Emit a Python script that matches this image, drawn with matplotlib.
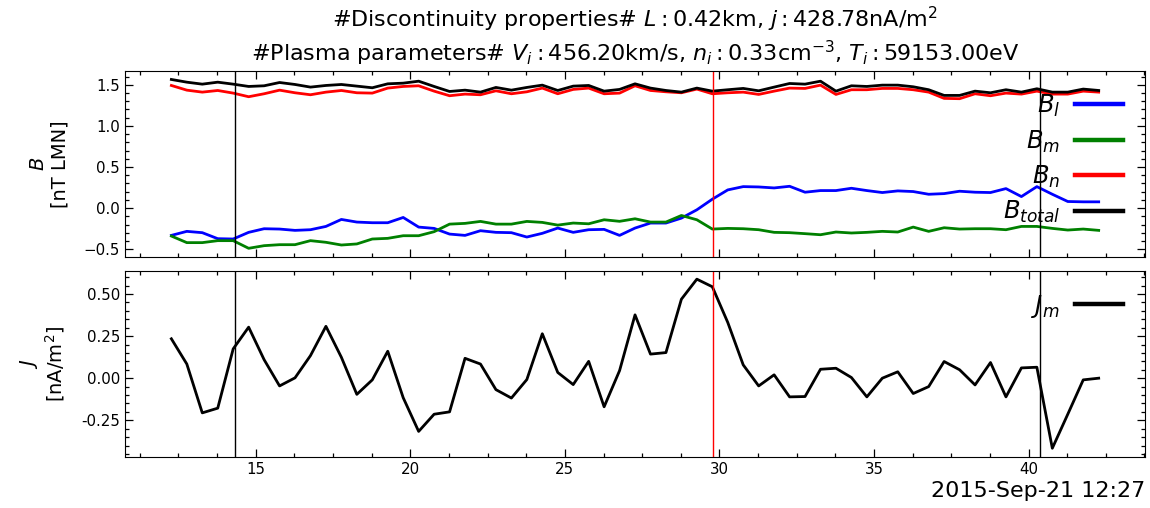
import numpy as np
import matplotlib
matplotlib.use("Agg")
import matplotlib.pyplot as plt
from matplotlib.ticker import AutoMinorLocator, MultipleLocator, FormatStrFormatter

# ── Data (seconds after 2015-09-21 12:27) ─────────────────────────────────────
t = np.linspace(12.27, 42.27, 61)

b_l = [-0.331, -0.282, -0.298, -0.371, -0.375, -0.294, -0.250, -0.254, -0.270, -0.262,
       -0.222, -0.137, -0.169, -0.177, -0.177, -0.113, -0.230, -0.246, -0.315, -0.331,
       -0.274, -0.294, -0.298, -0.351, -0.306, -0.242, -0.294, -0.262, -0.258, -0.331,
       -0.242, -0.181, -0.181, -0.121, -0.020, 0.109, 0.222, 0.262, 0.258, 0.246,
       0.266, 0.194, 0.214, 0.214, 0.242, 0.214, 0.190, 0.210, 0.202, 0.169,
       0.177, 0.206, 0.194, 0.190, 0.238, 0.141, 0.262, 0.169, 0.081, 0.077,
       0.077]
b_m = [-0.339, -0.419, -0.419, -0.395, -0.395, -0.488, -0.456, -0.444, -0.444, -0.395,
       -0.415, -0.448, -0.435, -0.375, -0.367, -0.335, -0.335, -0.286, -0.194, -0.185,
       -0.161, -0.194, -0.194, -0.161, -0.173, -0.206, -0.181, -0.190, -0.141, -0.160,
       -0.129, -0.169, -0.169, -0.089, -0.141, -0.254, -0.246, -0.250, -0.262, -0.294,
       -0.298, -0.310, -0.323, -0.290, -0.302, -0.294, -0.282, -0.290, -0.230, -0.282,
       -0.238, -0.254, -0.250, -0.250, -0.262, -0.222, -0.222, -0.246, -0.266, -0.254,
       -0.270]
b_n = [1.492, 1.435, 1.411, 1.431, 1.399, 1.355, 1.391, 1.435, 1.403, 1.379,
       1.411, 1.431, 1.403, 1.399, 1.460, 1.480, 1.488, 1.423, 1.367, 1.387,
       1.379, 1.427, 1.391, 1.415, 1.460, 1.391, 1.444, 1.460, 1.391, 1.399,
       1.488, 1.431, 1.415, 1.403, 1.448, 1.391, 1.403, 1.411, 1.383, 1.423,
       1.460, 1.456, 1.496, 1.383, 1.440, 1.440, 1.456, 1.456, 1.440, 1.411,
       1.335, 1.331, 1.391, 1.367, 1.399, 1.387, 1.423, 1.387, 1.387, 1.423,
       1.411]
b_total = [1.565, 1.532, 1.508, 1.532, 1.508, 1.480, 1.488, 1.528, 1.504, 1.472,
           1.492, 1.504, 1.484, 1.464, 1.512, 1.520, 1.544, 1.480, 1.419, 1.435,
           1.411, 1.468, 1.435, 1.468, 1.496, 1.431, 1.484, 1.492, 1.423, 1.444,
           1.512, 1.460, 1.431, 1.411, 1.460, 1.423, 1.440, 1.456, 1.427, 1.472,
           1.516, 1.508, 1.544, 1.423, 1.488, 1.480, 1.496, 1.496, 1.476, 1.440,
           1.371, 1.371, 1.423, 1.403, 1.440, 1.411, 1.452, 1.411, 1.411, 1.448,
           1.431]
j_m = [0.234, 0.084, -0.206, -0.178, 0.174, 0.303, 0.110, -0.046, 0.002, 0.134,
       0.308, 0.124, -0.096, -0.010, 0.160, -0.116, -0.316, -0.214, -0.200, 0.118,
       0.084, -0.068, -0.118, -0.008, 0.264, 0.034, -0.038, 0.100, -0.170, 0.045,
       0.376, 0.143, 0.152, 0.469, 0.588, 0.543, 0.331, 0.079, -0.046, 0.020,
       -0.111, -0.109, 0.053, 0.059, 0.004, -0.111, 0.000, 0.038, -0.091, -0.050,
       0.099, 0.050, -0.040, 0.093, -0.111, 0.061, 0.065, -0.416, -0.214, -0.010,
       0.000]

t_edges = [14.33, 40.37]   # black markers
t_center = 29.78           # red marker

title = ("#Discontinuity properties# $L: 0.42$km, $j: 428.78$nA/m$^2$\n"
         "#Plasma parameters# $V_i: 456.20$km/s, $n_i: 0.33$cm$^{-3}$, $T_i: 59153.00$eV")

# ── Figure ────────────────────────────────────────────────────────────────────
fig = plt.figure(figsize=(11.5, 5.08), dpi=100)
ax1 = fig.add_axes([0.1087, 0.4946, 0.8870, 0.3656])
ax2 = fig.add_axes([0.1087, 0.1010, 0.8870, 0.3661], sharex=ax1)

LW = 2.0
ax1.plot(t, b_l, color="blue", lw=LW, label="$B_l$")
ax1.plot(t, b_m, color="green", lw=LW, label="$B_m$")
ax1.plot(t, b_n, color="red", lw=LW, label="$B_n$")
ax1.plot(t, b_total, color="black", lw=LW, label="$B_{total}$")
ax2.plot(t, j_m, color="black", lw=LW, label="$J_m$")

ax2.yaxis.set_major_locator(MultipleLocator(0.25))
ax2.yaxis.set_major_formatter(FormatStrFormatter("%.2f"))

for ax in (ax1, ax2):
    for x in t_edges:
        ax.axvline(x, color="black", lw=1)
    ax.axvline(t_center, color="red", lw=1)
    ax.xaxis.set_minor_locator(AutoMinorLocator(4))
    ax.yaxis.set_minor_locator(AutoMinorLocator(5))
    ax.tick_params(which="both", direction="in", top=True, right=True,
                   labelsize=10.8)
    ax.tick_params(which="major", length=5.5, width=0.9)
    ax.tick_params(which="minor", length=3, width=0.9)
    leg = ax.legend(loc="upper right", frameon=False, markerfirst=False,
                    fontsize=17.5, labelspacing=0.38, handletextpad=0.6)
    for ln in leg.get_lines():
        ln.set_linewidth(3.2)

ax1.tick_params(labelbottom=False)
ax1.set_ylabel("$B$\n[nT LMN]", fontsize=14, labelpad=10)
ax2.set_ylabel("$J$\n[nA/m$^2$]", fontsize=14, labelpad=10)
ax1.set_title(title, fontsize=16, pad=7)

fig.text(0.9957, 0.033, "2015-Sep-21 12:27", ha="right", va="center", fontsize=16)

fig.savefig("out.png", dpi=100)
plt.close(fig)
